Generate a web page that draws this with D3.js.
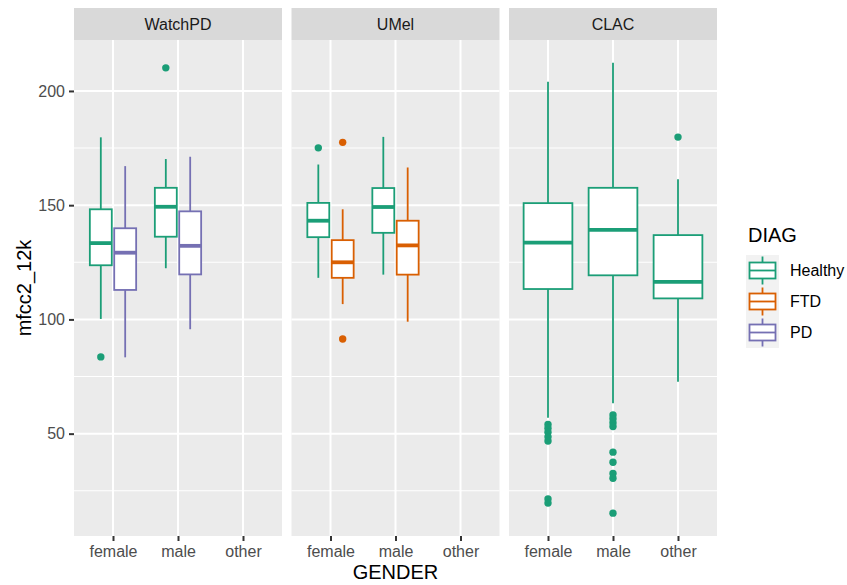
<!DOCTYPE html>
<html><head><meta charset="utf-8">
<script src="https://cdn.jsdelivr.net/npm/d3@7"></script>
<style>body{margin:0;background:#fff}svg{display:block}text{font-family:"Liberation Sans",Arial,sans-serif}</style>
</head><body><svg id="c" width="847" height="585"></svg>
<script>
const sites = ["WatchPD", "UMel", "CLAC"];
const genders = ["female", "male", "other"];
const diags = ["Healthy", "FTD", "PD"];
const diagColors = ["#1B9E77", "#D95F02", "#7570B3"];
const yTicks = [50, 100, 150, 200];
const yMinor = [25, 75, 125, 175];

// one entry per box
const boxSite   = ["WatchPD","WatchPD","WatchPD","WatchPD","UMel","UMel","UMel","UMel","CLAC","CLAC","CLAC"];
const boxGender = ["female","female","male","male","female","female","male","male","female","male","other"];
const boxDiag   = ["Healthy","PD","Healthy","PD","Healthy","FTD","Healthy","FTD","Healthy","Healthy","Healthy"];
// [whisker low, Q1, median, Q3, whisker high]
const boxStats = [
  [100.2, 123.7, 133.4, 148.2, 179.7],
  [83.4, 112.9, 129.2, 139.9, 167.1],
  [122.4, 136.2, 149.3, 157.6, 170.2],
  [95.7, 119.7, 132.2, 147.3, 171.2],
  [118.2, 136.0, 143.2, 151.0, 167.8],
  [106.7, 118.2, 125.0, 134.7, 148.2],
  [119.6, 137.9, 149.2, 157.5, 179.9],
  [99.0, 119.6, 132.4, 143.2, 166.5],
  [57.0, 113.3, 133.6, 150.9, 204.0],
  [63.3, 119.3, 139.2, 157.6, 212.3],
  [72.7, 109.2, 116.4, 136.9, 161.4]
];
const boxOutliers = [
  [83.6],
  [],
  [210.1],
  [],
  [175.1],
  [177.5, 91.4],
  [],
  [],
  [54.0, 52.4, 50.6, 48.6, 46.8, 21.4, 19.6],
  [58.2, 56.5, 54.8, 53.1, 41.9, 37.5, 32.6, 30.5, 15.2],
  [179.8]
];

const svg = d3.select("#c");
const panelLeft = 74, panelW = 208, panelGap = 9.5;
const stripTop = 8, plotTop = 40, plotBottom = 536;
const y = d3.scaleLinear().domain([5.2, 222.3]).range([plotBottom, plotTop]);
const color = d3.scaleOrdinal().domain(diags).range(diagColors);
const font = '"Liberation Sans",Arial,sans-serif';

sites.forEach((site, si) => {
  const x0 = panelLeft + si * (panelW + panelGap);
  const x = d3.scaleLinear().domain([0.4, 3.6]).range([x0, x0 + panelW]);
  const g = svg.append("g");
  g.append("rect").attr("x", x0).attr("y", plotTop).attr("width", panelW).attr("height", plotBottom - plotTop).attr("fill", "#EBEBEB");
  yMinor.forEach(v => { if (y(v) < plotBottom) g.append("line").attr("x1", x0).attr("x2", x0 + panelW).attr("y1", y(v)).attr("y2", y(v)).attr("stroke", "#fff").attr("stroke-width", 1.1); });
  yTicks.forEach(v => g.append("line").attr("x1", x0).attr("x2", x0 + panelW).attr("y1", y(v)).attr("y2", y(v)).attr("stroke", "#fff").attr("stroke-width", 2));
  genders.forEach((gd, gi) => g.append("line").attr("x1", x(gi + 1)).attr("x2", x(gi + 1)).attr("y1", plotTop).attr("y2", plotBottom).attr("stroke", "#fff").attr("stroke-width", 2));
  // strip
  g.append("rect").attr("x", x0).attr("y", stripTop).attr("width", panelW).attr("height", plotTop - stripTop).attr("fill", "#D9D9D9");
  g.append("text").attr("x", x0 + panelW / 2).attr("y", (stripTop + plotTop) / 2).attr("dy", "0.35em").attr("text-anchor", "middle").attr("font-size", 16).attr("fill", "#1A1A1A").text(site);
  // x axis
  const xa = d3.axisBottom(x).tickValues([1, 2, 3]).tickFormat(d => genders[d - 1]).tickSize(5).tickPadding(4);
  const ag = g.append("g").attr("transform", `translate(0,${plotBottom})`).call(xa);
  ag.select(".domain").remove();
  ag.selectAll(".tick line").attr("stroke", "#333").attr("stroke-width", 2);
  ag.selectAll(".tick text").attr("fill", "#4D4D4D").attr("font-size", 16).attr("font-family", font).attr("dy", "0.76em");

  // boxes
  const idx = boxSite.map((s, i) => s === site ? i : -1).filter(i => i >= 0);
  idx.forEach(i => {
    const gi = genders.indexOf(boxGender[i]) + 1;
    const same = idx.filter(j => boxGender[j] === boxGender[i]);
    const n = same.length, k = same.indexOf(i);
    const slot = 0.75 / n;
    const bw = n === 1 ? 0.75 : slot * 0.9;
    const cx = gi - 0.375 + slot * (k + 0.5);
    const col = color(boxDiag[i]);
    const [lo, q1, med, q3, hi] = boxStats[i];
    const xc = x(cx), xl = x(cx - bw / 2), xr = x(cx + bw / 2);
    g.append("line").attr("x1", xc).attr("x2", xc).attr("y1", y(hi)).attr("y2", y(q3)).attr("stroke", col).attr("stroke-width", 1.8);
    g.append("line").attr("x1", xc).attr("x2", xc).attr("y1", y(q1)).attr("y2", y(lo)).attr("stroke", col).attr("stroke-width", 1.8);
    g.append("rect").attr("x", xl).attr("y", y(q3)).attr("width", xr - xl).attr("height", y(q1) - y(q3)).attr("fill", "#fff").attr("stroke", col).attr("stroke-width", 1.8);
    g.append("line").attr("x1", xl).attr("x2", xr).attr("y1", y(med)).attr("y2", y(med)).attr("stroke", col).attr("stroke-width", 3.8);
    boxOutliers[i].forEach(v => g.append("circle").attr("cx", xc).attr("cy", y(v)).attr("r", 3.7).attr("fill", col));
  });
});

// y axis
const ya = d3.axisLeft(y).tickValues(yTicks).tickSize(5).tickPadding(4);
const yg = svg.append("g").attr("transform", `translate(${panelLeft},0)`).call(ya);
yg.select(".domain").remove();
yg.selectAll(".tick line").attr("stroke", "#333").attr("stroke-width", 2);
yg.selectAll(".tick text").attr("fill", "#4D4D4D").attr("font-size", 16).attr("font-family", font);

// axis titles
svg.append("text").attr("x", panelLeft + (3 * panelW + 2 * panelGap) / 2).attr("y", 579).attr("text-anchor", "middle").attr("font-size", 20).attr("fill", "#000").text("GENDER");
svg.append("text").attr("transform", `translate(31,${(plotTop + plotBottom) / 2}) rotate(-90)`).attr("text-anchor", "middle").attr("font-size", 20).attr("fill", "#000").text("mfcc2_12k");

// legend
const lg = svg.append("g");
lg.append("text").attr("x", 748).attr("y", 242).attr("font-size", 20).attr("fill", "#000").text("DIAG");
const keyTop = 255, keyH = 31, keyX = 746, keyW = 33;
diags.forEach((d, i) => {
  const ky = keyTop + i * keyH, cy = ky + keyH / 2, cx = keyX + keyW / 2, col = color(d);
  lg.append("rect").attr("x", keyX).attr("y", ky).attr("width", keyW).attr("height", keyH).attr("fill", "#F2F2F2");
  lg.append("line").attr("x1", cx).attr("x2", cx).attr("y1", cy - 14).attr("y2", cy + 14).attr("stroke", col).attr("stroke-width", 1.8);
  lg.append("rect").attr("x", keyX + 3.5).attr("y", cy - 8).attr("width", keyW - 7).attr("height", 16).attr("fill", "#fff").attr("stroke", col).attr("stroke-width", 1.8);
  lg.append("line").attr("x1", keyX + 3.5).attr("x2", keyX + keyW - 3.5).attr("y1", cy).attr("y2", cy).attr("stroke", col).attr("stroke-width", 1.8);
  lg.append("text").attr("x", 790).attr("y", cy).attr("dy", "0.35em").attr("font-size", 16).attr("fill", "#000").text(d);
});
</script></body></html>
